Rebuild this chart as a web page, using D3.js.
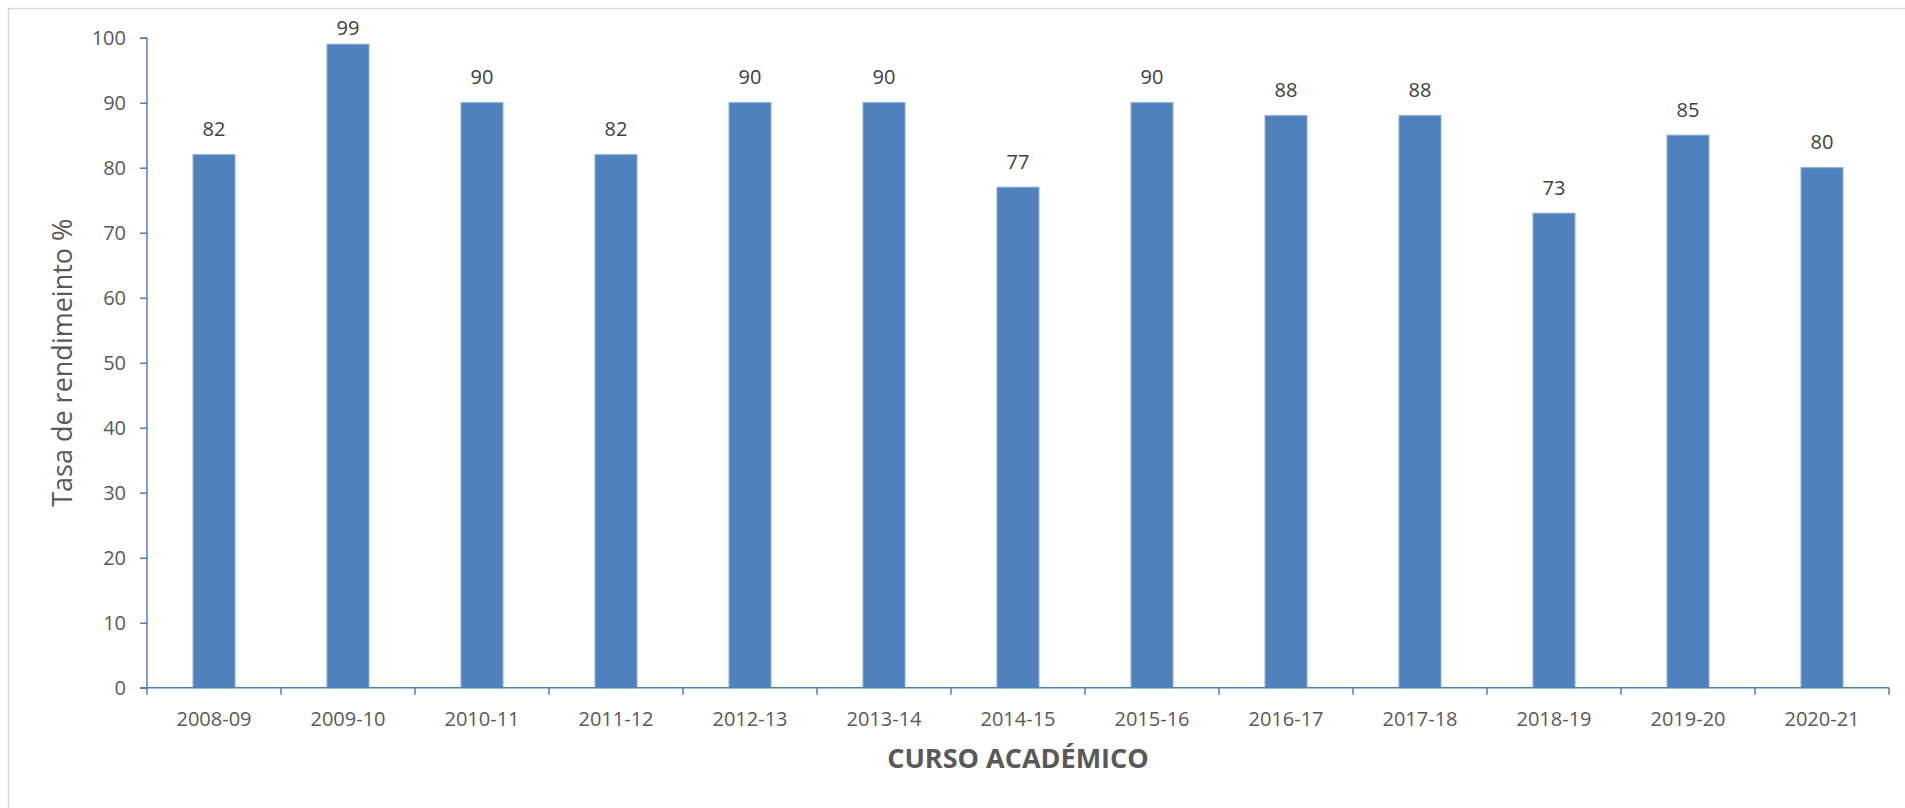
<!DOCTYPE html>
<html>
<head>
<meta charset="utf-8">
<script src="https://cdn.jsdelivr.net/npm/d3@7"></script>
<style>
  body { margin: 0; background: #fff; }
  svg { display: block; font-family: "Open Sans", sans-serif; }
</style>
</head>
<body>
<div id="container"></div>
<script>
const cursos = ["2008-09", "2009-10", "2010-11", "2011-12", "2012-13", "2013-14", "2014-15",
                "2015-16", "2016-17", "2017-18", "2018-19", "2019-20", "2020-21"];
const tasas = [82, 99, 90, 82, 90, 90, 77, 90, 88, 88, 73, 85, 80];
const yTicks = [0, 10, 20, 30, 40, 50, 60, 70, 80, 90, 100];

const W = 1905, H = 808;
const margin = { top: 37.7, right: 16, bottom: 120.3, left: 147 };
const width = W - margin.left - margin.right;
const height = H - margin.top - margin.bottom;

const data = cursos.map((c, i) => ({ curso: c, valor: tasas[i] }));

const svg = d3.select("#container").append("svg")
    .attr("width", W)
    .attr("height", H);

// chart frame (only top and left edges fall inside the window)
svg.append("rect")
    .attr("x", 8.5).attr("y", 8.5)
    .attr("width", W + 20).attr("height", H + 20)
    .attr("fill", "none")
    .attr("stroke", "#d9d9d9")
    .attr("stroke-width", 1.5);

const g = svg.append("g")
    .attr("transform", `translate(${margin.left},${margin.top})`);

const x = d3.scaleBand()
    .domain(cursos)
    .range([0, width])
    .paddingInner(0.687)
    .paddingOuter(0.3435);

const y = d3.scaleLinear()
    .domain([0, 100])
    .range([height, 0]);

// bars
g.selectAll("rect.bar")
    .data(data)
  .enter().append("rect")
    .attr("class", "bar")
    .attr("x", d => x(d.curso))
    .attr("y", d => y(d.valor))
    .attr("width", x.bandwidth())
    .attr("height", d => height - y(d.valor))
    .attr("fill", "#4f81bd")
    .attr("stroke", "#86a9d6")
    .attr("stroke-width", 1);

// value labels (kept inside the chart area, like the 99 label)
g.selectAll("text.val")
    .data(data)
  .enter().append("text")
    .attr("class", "val")
    .attr("x", d => x(d.curso) + x.bandwidth() / 2)
    .attr("y", d => Math.max(y(d.valor) - 18.5, -3))
    .attr("text-anchor", "middle")
    .attr("fill", "#404040")
    .style("font-size", "20px")
    .text(d => d.valor);

// y axis
const yAxis = g.append("g")
    .call(d3.axisLeft(y).tickValues(yTicks).tickSize(7).tickPadding(14));
yAxis.selectAll("line, path").attr("stroke", "#4f81bd").attr("stroke-width", 1.5);
yAxis.select(".domain").attr("d", `M-7,0.5H0V${height}H-7`);
yAxis.selectAll("text")
    .attr("fill", "#595959")
    .style("font-size", "20px")
    .style("font-family", "'Open Sans', sans-serif");

// x axis (ticks on category boundaries)
const xAxis = g.append("g")
    .attr("transform", `translate(0,${height})`)
    .call(d3.axisBottom(x).tickSize(0).tickPadding(24));
xAxis.select(".domain").attr("d", `M0,0H${width}`)
    .attr("stroke", "#4f81bd").attr("stroke-width", 1.5);
xAxis.selectAll("text")
    .attr("fill", "#595959")
    .style("font-size", "20px")
    .style("font-family", "'Open Sans', sans-serif");

const step = x.step();
xAxis.selectAll("line.bound")
    .data(d3.range(cursos.length + 1))
  .enter().append("line")
    .attr("class", "bound")
    .attr("x1", i => i * step).attr("x2", i => i * step)
    .attr("y1", 0).attr("y2", 7)
    .attr("stroke", "#4f81bd")
    .attr("stroke-width", 1.5);

// axis titles
svg.append("text")
    .attr("x", margin.left + width / 2)
    .attr("y", 768)
    .attr("text-anchor", "middle")
    .attr("fill", "#595959")
    .style("font-size", "27px")
    .style("font-weight", "bold")
    .text("CURSO ACADÉMICO");

svg.append("text")
    .attr("transform", `translate(72,${margin.top + height / 2}) rotate(-90)`)
    .attr("text-anchor", "middle")
    .attr("fill", "#595959")
    .style("font-size", "27px")
    .text("Tasa de rendimeinto %");
</script>
</body>
</html>
